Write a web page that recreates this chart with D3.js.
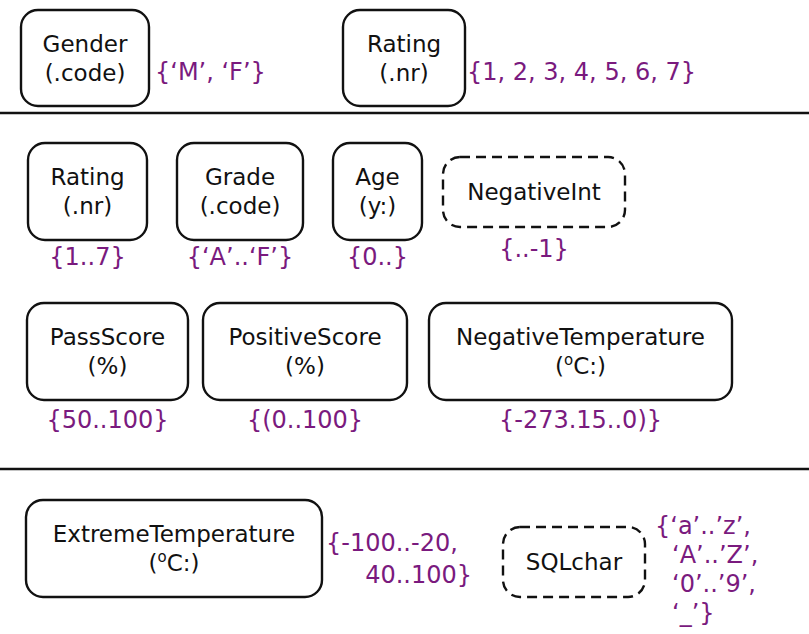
<!DOCTYPE html>
<meta charset="utf-8">
<style>
body { margin: 0; background: #fff; }
svg text { font-family: "DejaVu Sans", Verdana, sans-serif; font-size: 23px; }
.box rect { fill: none; stroke: #111; stroke-width: 2.4px; }
.box.dashed rect { stroke-dasharray: 10 6; }
.name { fill: #111; }
.vals { fill: #7a1a7e; font-size: 24px; }
.rule { stroke: #111; stroke-width: 2.4px; }
</style>
<svg width="809" height="634"></svg>
<script src="https://d3js.org/d3.v7.min.js"></script>
<script>

// domain names, their units and value sets
var names = ["Gender", "Rating", "Rating", "Grade", "Age", "NegativeInt",
             "PassScore", "PositiveScore", "NegativeTemperature",
             "ExtremeTemperature", "SQLchar"]
var units = [".code", ".nr", ".nr", ".code", "y:", "",
             "%", "%", "\u00b0C:", "\u00b0C:", ""]
var valueSets = [
  ["{\u2018M\u2019, \u2018F\u2019}"],
  ["{1, 2, 3, 4, 5, 6, 7}"],
  ["{1..7}"],
  ["{\u2018A\u2019..\u2018F\u2019}"],
  ["{0..}"],
  ["{..-1}"],
  ["{50..100}"],
  ["{(0..100}"],
  ["{-273.15..0)}"],
  ["{-100..-20,", "40..100}"],
  ["{\u2018a\u2019..\u2019z\u2019,", "\u2018A\u2019..\u2019Z\u2019,", "\u20180\u2019..\u20199\u2019,", "\u2018_\u2019}"]
]
var dashed = [false, false, false, false, false, true, false, false, false, false, true]

// layout: box x, y, w, h and where the value set goes
var layout = [
  {x: 21,  y: 10,  w: 128, h: 96, side: "right", vx: 155, vy: 80},
  {x: 343, y: 10,  w: 122, h: 96, side: "right", vx: 467, vy: 80},
  {x: 28,  y: 143, w: 119, h: 97, side: "below", vy: 265},
  {x: 177, y: 143, w: 126, h: 97, side: "below", vy: 265},
  {x: 333, y: 143, w: 89,  h: 97, side: "below", vy: 265},
  {x: 443, y: 157, w: 182, h: 70, side: "below", vy: 257},
  {x: 27,  y: 303, w: 161, h: 97, side: "below", vy: 428},
  {x: 203, y: 303, w: 204, h: 97, side: "below", vy: 428},
  {x: 429, y: 303, w: 303, h: 97, side: "below", vy: 428},
  {x: 26,  y: 500, w: 296, h: 97, side: "right", vx: 326, vy: 551,
   dx: [0, 146], dy: [0, 32], anchor: ["start", "end"]},
  {x: 503, y: 527, w: 142, h: 70, side: "right", vx: 655, vy: 534,
   dx: [0, 17, 17, 17], dy: [0, 29, 58, 87]}
]
var rules = [113, 469]

var svg = d3.select("svg")

svg.selectAll(".rule")
  .data(rules)
  .enter().append("line")
    .attr("class", "rule")
    .attr("x1", 0).attr("x2", 809)
    .attr("y1", function(d) { return d; })
    .attr("y2", function(d) { return d; })

var items = names.map(function(n, i) {
  return {name: n, unit: units[i], vals: valueSets[i], dashed: dashed[i], L: layout[i]}
})

var g = svg.selectAll(".box")
  .data(items)
  .enter().append("g")
    .attr("class", function(d) { return d.dashed ? "box dashed" : "box" })
    .attr("transform", function(d) { return "translate(" + d.L.x + "," + d.L.y + ")" })

g.append("rect")
  .attr("width", function(d) { return d.L.w })
  .attr("height", function(d) { return d.L.h })
  .attr("rx", 17).attr("ry", 17)

// name + unit (two lines) or a single name line
g.each(function(d) {
  var sel = d3.select(this)
  if (d.unit) {
    sel.append("text").attr("class", "name")
      .attr("x", d.L.w / 2).attr("y", 42)
      .attr("text-anchor", "middle").text(d.name)
    var t = sel.append("text").attr("class", "name")
      .attr("x", d.L.w / 2).attr("y", 71)
      .attr("text-anchor", "middle")
    if (d.unit.charAt(0) == "\u00b0") {
      // raised small "o" for degrees, like the original
      t.append("tspan").text("(")
      t.append("tspan").attr("dy", -9).style("font-size", "15px").text("o")
      t.append("tspan").attr("dy", 9).text(d.unit.slice(1) + ")")
    } else {
      t.text("(" + d.unit + ")")
    }
  } else {
    sel.append("text").attr("class", "name")
      .attr("x", d.L.w / 2).attr("y", d.L.h / 2 + 8)
      .attr("text-anchor", "middle").text(d.name)
  }
})

// value sets
items.forEach(function(d) {
  var L = d.L
  if (L.side == "below") {
    svg.append("text").attr("class", "vals")
      .attr("x", L.x + L.w / 2).attr("y", L.vy)
      .attr("text-anchor", "middle").text(d.vals[0])
  } else {
    d.vals.forEach(function(v, j) {
      var anchor = L.anchor ? L.anchor[j] : "start"
      svg.append("text").attr("class", "vals")
        .attr("x", L.vx + (L.dx ? L.dx[j] : 0))
        .attr("y", L.vy + (L.dy ? L.dy[j] : 0))
        .attr("text-anchor", anchor)
        .text(v)
    })
  }
})

</script>
